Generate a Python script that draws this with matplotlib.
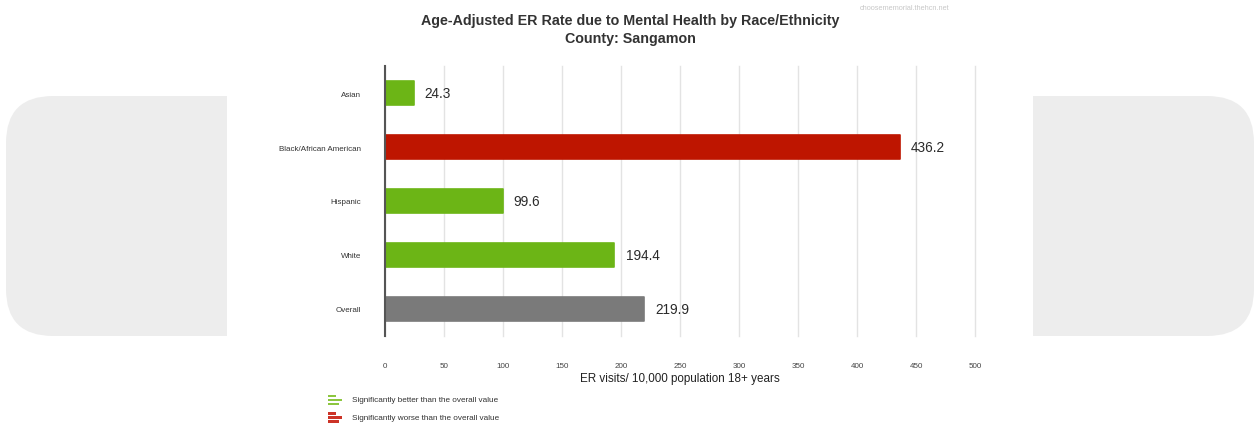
import matplotlib.pyplot as plt
from matplotlib.patches import FancyBboxPatch, Rectangle

plt.rcParams['font.family'] = ['Liberation Sans', 'DejaVu Sans']

# data
categories = ['Asian', 'Black/African American', 'Hispanic', 'White', 'Overall']
values = [24.3, 436.2, 99.6, 194.4, 219.9]
bar_colors = ['#6CB516', '#BE1500', '#6CB516', '#6CB516', '#7A7A7A']
x_ticks = [0, 50, 100, 150, 200, 250, 300, 350, 400, 450, 500]
legend_labels = ['Significantly better than the overall value',
                 'Significantly worse than the overall value']
legend_colors = ['#8CC63F', '#CC3327']

W, H = 1255, 431
fig = plt.figure(figsize=(W / 100, H / 100), dpi=100)

# background layer in pixel coordinates
bg = fig.add_axes([0, 0, 1, 1], zorder=-1)
bg.set_xlim(0, W)
bg.set_ylim(H, 0)
bg.axis('off')
bg.add_patch(FancyBboxPatch((6, 97), 1248, 240,
                            boxstyle='round,pad=0,rounding_size=47',
                            facecolor='#EDEDED', edgecolor='none'))
bg.add_patch(Rectangle((227, 0), 806, H, facecolor='white', edgecolor='none'))

# title and watermark
bg.text(630, 21.5, 'Age-Adjusted ER Rate due to Mental Health by Race/Ethnicity',
        ha='center', va='center', fontsize=10.3, fontweight='bold', color='#333333')
bg.text(630, 39, 'County: Sangamon', ha='center', va='center',
        fontsize=10.3, fontweight='bold', color='#333333')
bg.text(860, 9, 'choosememorial.thehcn.net', ha='left', va='center',
        fontsize=5.3, color='#C8C8C8')

# legend (small bar icons)
for i, (lab, col) in enumerate(zip(legend_labels, legend_colors)):
    yc = 401 + i * 17.5
    for dy, ln in zip([-4, 0, 4], [8, 14, 11]):
        bg.add_patch(Rectangle((328, yc + dy - 1.1), ln, 2.2,
                               facecolor=col, edgecolor='none'))
    bg.text(352, yc, lab, ha='left', va='center', fontsize=5.9, color='#333333')

# main chart
ax = fig.add_axes([385 / W, (H - 337) / H, 590 / W, 270 / H])
ypos = list(range(len(categories)))
bars = ax.barh(ypos, values, height=0.45, color=bar_colors,
               edgecolor=bar_colors, linewidth=1.2, zorder=3)
for b in bars:
    b.set_joinstyle('round')

for y, v in zip(ypos, values):
    ax.annotate(f'{v:.1f}', (v, y), xytext=(8, 0), textcoords='offset points',
                ha='left', va='center', fontsize=9.8, color='#2A2A2A')

ax.set_xlim(0, 500)
ax.set_ylim(len(categories) - 0.5, -0.5)
ax.set_xticks(x_ticks)
ax.set_yticks(ypos)
ax.set_yticklabels(categories)
ax.tick_params(axis='y', length=0, pad=17, labelsize=5.8, labelcolor='#333333')
ax.tick_params(axis='x', length=0, pad=19, labelsize=5.8, labelcolor='#444444')
ax.set_xlabel('ER visits/ 10,000 population 18+ years', fontsize=8.4,
              color='#222222', labelpad=2)

ax.grid(axis='x', color='#E3E3E3', linewidth=1, zorder=0)
for gl in ax.get_xgridlines():
    gl.set_clip_on(False)
for s in ['top', 'right', 'bottom']:
    ax.spines[s].set_visible(False)
ax.spines['left'].set_color('#555555')
ax.spines['left'].set_linewidth(1.5)
ax.spines['left'].set_zorder(4)
ax.set_facecolor('none')

fig.savefig('out.png', dpi=100)
